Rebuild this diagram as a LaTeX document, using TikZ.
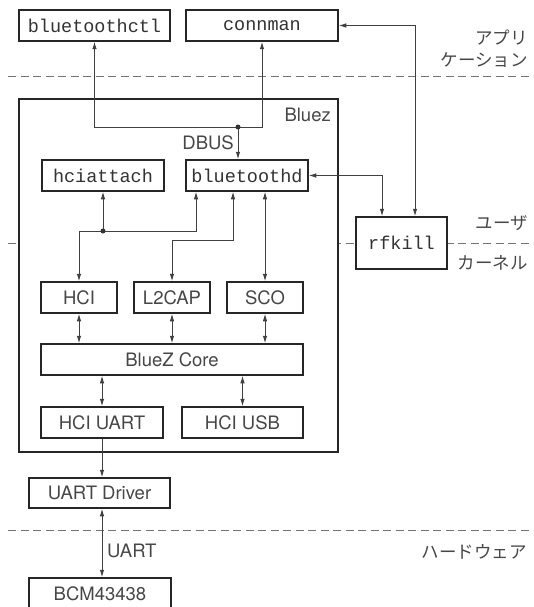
\documentclass[tikz,border=0pt]{standalone}
\usepackage{fontspec}
\setsansfont{TeX Gyre Heros}
\setmonofont{Liberation Mono}
\newfontfamily\jpfont{Noto Sans CJK JP}
\usetikzlibrary{arrows.meta}
\begin{document}
\begin{tikzpicture}[x=1pt,y=-1pt,
  box/.style={draw=black!85, line width=1.5pt, fill=white, inner sep=0pt, minimum height=31pt,
    font=\sffamily\fontsize{18.5}{20}\selectfont, text=black!72},
  mbox/.style={box, font=\ttfamily\fontsize{18.5}{20}\selectfont, text=black!80},
  conn/.style={draw=black!75, line width=0.9pt},
  arr/.style={conn, -{Latex[length=7.5pt,width=4.5pt]}},
  darr/.style={conn, {Latex[length=7.5pt,width=4.5pt]}-{Latex[length=7.5pt,width=4.5pt]}},
  layer/.style={draw=black!55, line width=0.9pt, dash pattern=on 8pt off 4.5pt},
  jp/.style={font=\jpfont\fontsize{17.5}{20}\selectfont, text=black!72, anchor=east, inner sep=0pt},
  lbl/.style={font=\sffamily\fontsize{18.5}{20}\selectfont, text=black!72, inner sep=0pt}
]
\useasboundingbox (0,0) rectangle (533,607);

% layer separators
\coordinate (l1a) at (8,76);  \coordinate (l1b) at (533,76);
\coordinate (l2a) at (8,243); \coordinate (l2b) at (533,243);
\coordinate (l3a) at (8,530); \coordinate (l3b) at (533,530);
\draw[layer] (l1a) -- (l1b);
\draw[layer] (l2a) -- (l2b);
\draw[layer] (l3a) -- (l3b);

% Bluez container
\node[box, minimum width=319pt, minimum height=353pt] (bluez) at (178.5,275.5) {};
\node[lbl, anchor=east] (bluezlbl) at (331,115) {Bluez};

% boxes
\node[mbox, minimum width=151pt] (btctl) at (94.5,25.5) {bluetoothctl};
\node[mbox, minimum width=152pt] (connman) at (262,25.5) {connman};
\node[mbox, minimum width=122pt] (hciattach) at (103,175.5) {hciattach};
\node[mbox, minimum width=122pt] (btd) at (247,175.5) {bluetoothd};
\node[mbox, minimum width=91pt, minimum height=52pt] (rfkill) at (401.5,243) {rfkill};
\node[box, minimum width=76pt] (hci) at (79,297.5) {HCI};
\node[box, minimum width=76pt] (l2cap) at (172,297.5) {L2CAP};
\node[box, minimum width=76pt] (sco) at (265,297.5) {SCO};
\node[box, minimum width=262pt] (core) at (172,359.5) {BlueZ Core};
\node[box, minimum width=122pt] (uart) at (102,422.5) {HCI UART};
\node[box, minimum width=121pt] (usb) at (242.5,422.5) {HCI USB};
\node[box, minimum width=141pt, minimum height=30pt] (drv) at (99.5,493) {UART Driver};
\node[box, minimum width=142pt] (bcm) at (100,593.5) {BCM43438};

% DBUS
\coordinate (dbus) at (238,127);
\draw[arr] (dbus) -| (btctl.south);
\draw[arr] (dbus) -| (connman.south);
\draw[arr] (dbus) -- (dbus |- btd.north);
\fill[black!80] (dbus) circle (2.5pt);
\node[lbl, anchor=east] (dbuslbl) at (234,143) {DBUS};

% rfkill links
\draw[darr] (connman.east) -| ([xshift=13.5pt]rfkill.north);
\draw[darr] (btd.east) -| ([xshift=-19.5pt]rfkill.north);

% hciattach junction
\coordinate (hj) at (103,231);
\coordinate (hr) at (196,231);
\draw[arr] (hj) -- (hciattach.south);
\draw[arr] (hj) -| (hci.north);
\draw[arr] (hj) -- (hr) -- (hr |- btd.south);
\fill[black!80] (hj) circle (2.5pt);

% L2CAP
\coordinate (lb) at (233,240);
\draw[darr] (lb |- btd.south) -- (lb) -| (l2cap.north);

% SCO
\draw[darr] (btd.south -| sco.north) -- (sco.north);

% to core
\draw[darr] (hci.south) -- (hci.south |- core.north);
\draw[darr] (l2cap.south) -- (l2cap.south |- core.north);
\draw[darr] (sco.south) -- (sco.south |- core.north);
\draw[darr] (core.south -| uart.north) -- (uart.north);
\draw[darr] (core.south -| usb.north) -- (usb.north);

% down to hardware
\draw[arr] (uart.south) -- (uart.south |- drv.north);
\draw[darr] (drv.south -| uart.south) -- (bcm.north -| uart.south);
\node[lbl, anchor=west] (uartlbl) at (107,551) {UART};

% layer labels
\node[jp] (app1) at (528,38) {アプリ};
\node[jp] (app2) at (528,60) {ケーション};
\node[jp] (user) at (528,223) {ユーザ};
\node[jp] (kern) at (528,263) {カーネル};
\node[jp] (hw) at (527,552) {ハードウェア};
\end{tikzpicture}
\end{document}
